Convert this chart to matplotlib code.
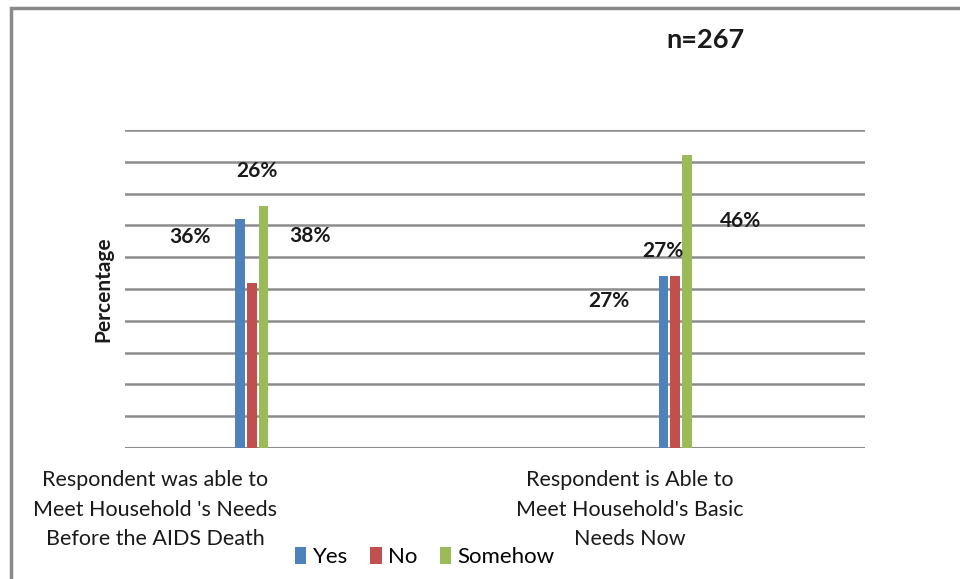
import matplotlib
matplotlib.use("Agg")
import matplotlib.pyplot as plt
from matplotlib.patches import Patch, Rectangle
import numpy as np

# values (percent, y axis 0-50)
categories = [
    "Respondent was able to\nMeet Household 's Needs\nBefore the AIDS Death",
    "Respondent is Able to\nMeet Household's Basic\nNeeds Now",
]
series_names = ["Yes", "No", "Somehow"]
yes_vals = [36, 27]
no_vals = [26, 27]
somehow_vals = [38, 46]

# data labels as printed in the source (they sit away from their bars)
label_texts = ["36%", "26%", "38%", "27%", "27%", "46%"]
label_x = [-0.147, 0.012, 0.137, 0.844, 0.972, 1.156]
label_y = [33.2, 43.6, 33.3, 23.1, 31.0, 35.7]

COLORS = ["#4f81bd", "#c0504d", "#9bbb59"]
GRID = "#8c8c8c"
FONT = "Lato"

fig = plt.figure(figsize=(9.6, 5.79), dpi=100)
fig.patch.set_facecolor("white")
# outer chart frame (top and left edges visible)
fig.add_artist(Rectangle((11 / 960, -0.05), 1.0, (579 - 8) / 579 + 0.05,
                         transform=fig.transFigure, fill=False,
                         edgecolor="#8a8a8a", linewidth=2.5))

ax = fig.add_axes([125 / 960, (579 - 448) / 579, 740 / 960, 318 / 579])

x = np.arange(len(categories))
offset = 0.028
width = 0.022
for i, vals in enumerate([yes_vals, no_vals, somehow_vals]):
    ax.bar(x + (i - 1) * offset, vals, width=width, color=COLORS[i], zorder=3)

ax.set_xlim(-0.300, 1.449)
ax.set_ylim(0, 50)
ax.set_yticks(np.arange(0, 51, 5))
ax.set_yticklabels([])
ax.tick_params(axis="y", length=0)
ax.grid(axis="y", color=GRID, linewidth=1.8, zorder=0)
ax.set_axisbelow(True)
for s in ("top", "right", "left", "bottom"):
    ax.spines[s].set_visible(False)
ax.axhline(0, color=GRID, linewidth=2.2, zorder=2)

ax.set_xticks([-0.229, 0.894])
ax.set_xticklabels(categories, fontsize=15.5, family=FONT, linespacing=1.6,
                   color="#1a1a1a")
ax.tick_params(axis="x", length=0, pad=16)

for t, lx, ly in zip(label_texts, label_x, label_y):
    ax.text(lx, ly, t, ha="center", va="center", fontsize=15,
            fontweight="bold", family=FONT, color="#1a1a1a")

ax.set_ylabel("Percentage", fontsize=15, fontweight="bold", family=FONT,
              labelpad=5, color="#1a1a1a")

fig.text(705 / 960, 1 - 40 / 579, "n=267", ha="center", va="center",
         fontsize=19.5, fontweight="bold", family=FONT, color="#1a1a1a")

handles = [Patch(facecolor=c) for c in COLORS]
fig.legend(handles, series_names, loc="center", bbox_to_anchor=(425 / 960, 1 - 557 / 579),
           ncol=3, frameon=False, handlelength=0.5, handleheight=0.8,
           handletextpad=0.3, columnspacing=1.0,
           prop={"family": FONT, "size": 16})

fig.savefig("out.png", dpi=100, facecolor="white")
